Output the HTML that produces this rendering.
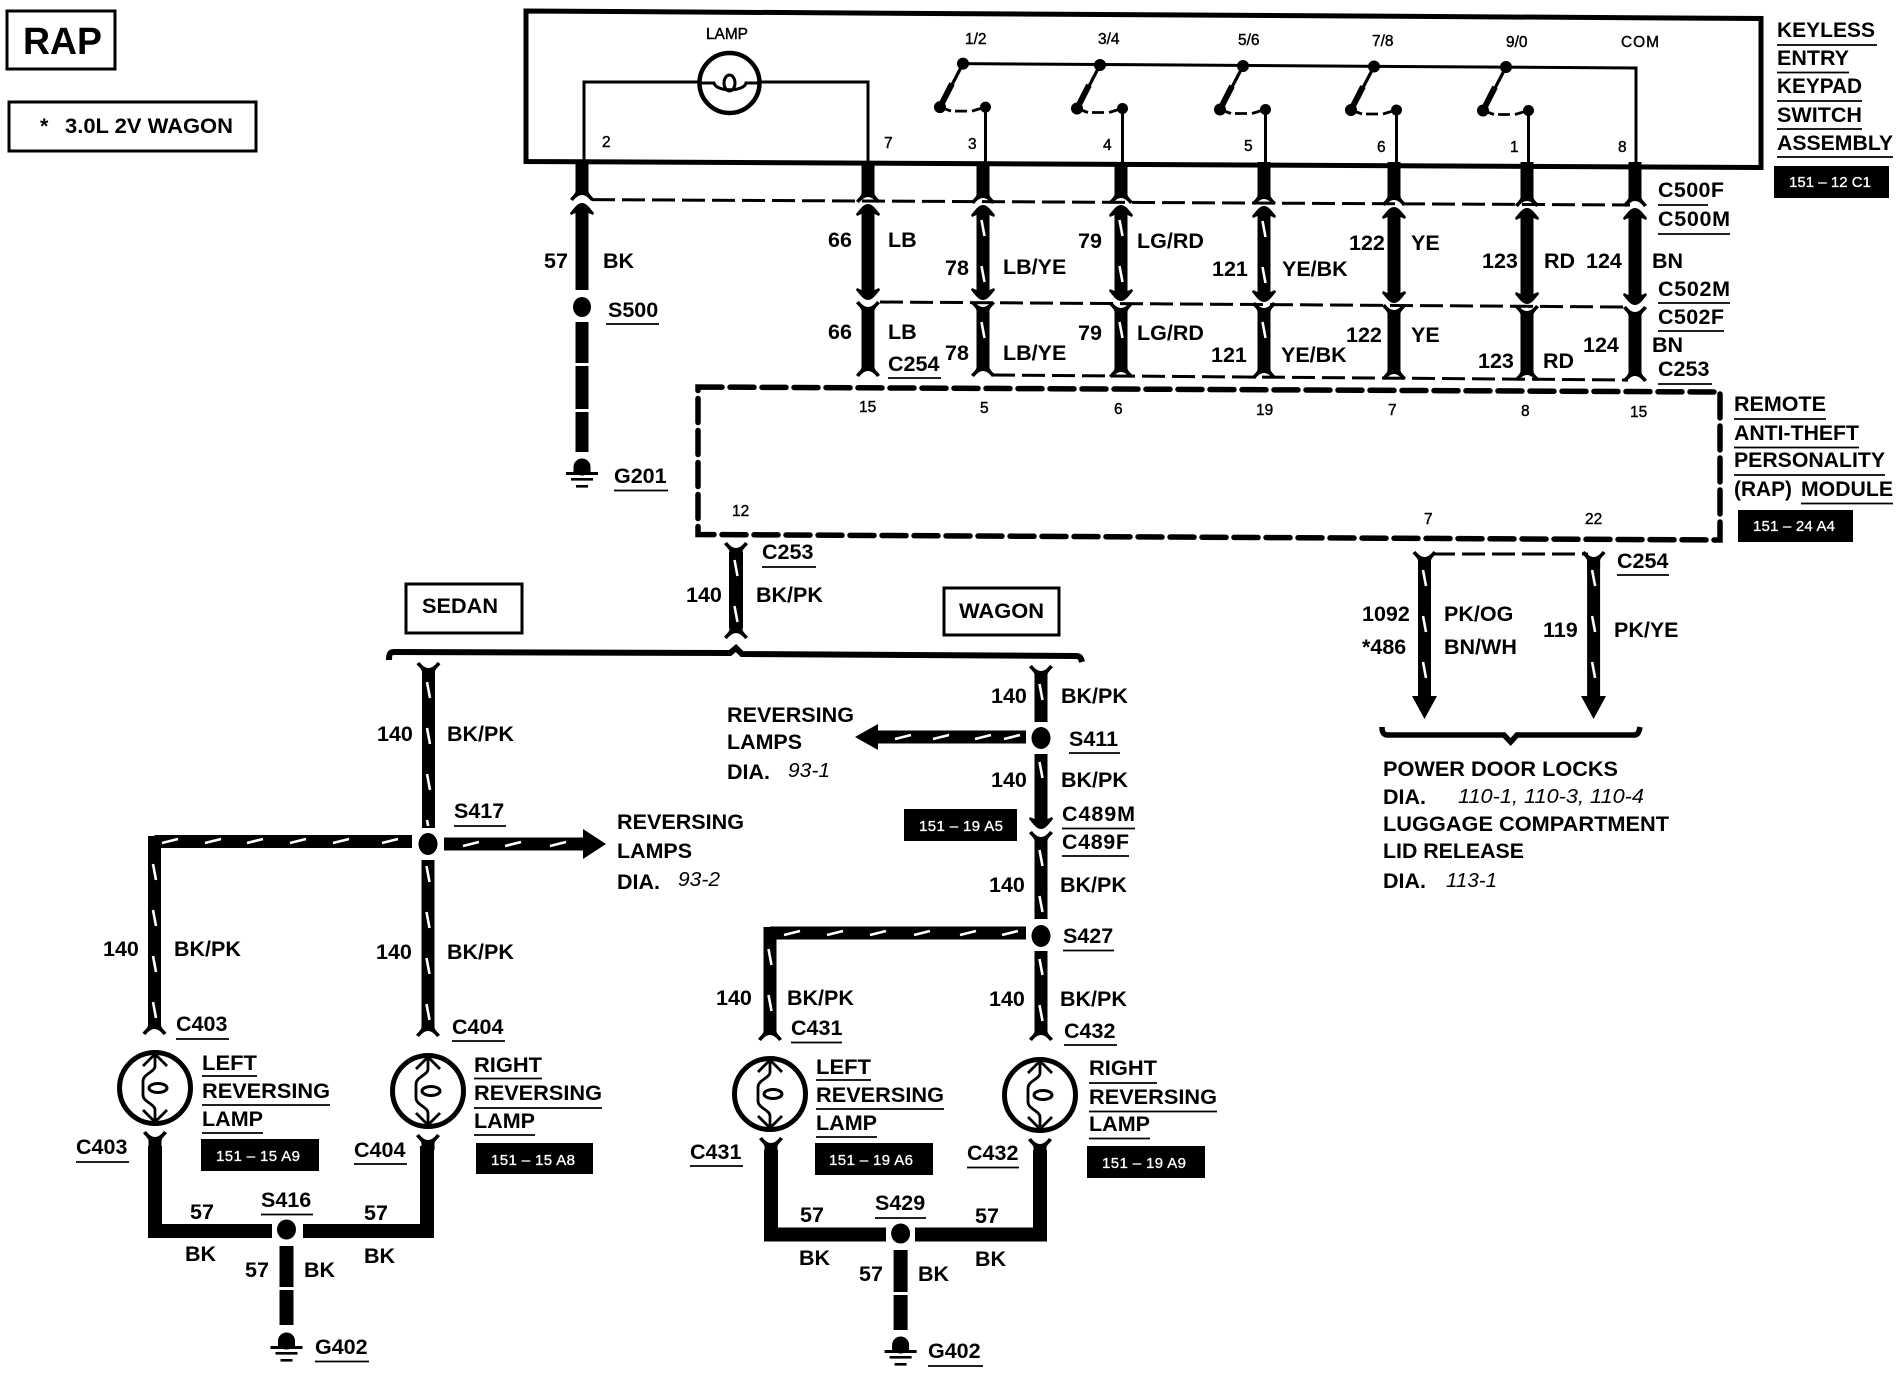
<!DOCTYPE html>
<html>
<head>
<meta charset="utf-8">
<style>
html,body{margin:0;padding:0;background:#fff}
svg{display:block}
text{font-family:"Liberation Sans",sans-serif;font-weight:bold;font-size:21.5px;fill:#000}
.n{font-size:15.5px;font-weight:normal;stroke:#000;stroke-width:.4px}
.w{font-size:15px;font-weight:normal;fill:#fff;stroke:#fff;stroke-width:.3px}
.i{font-style:italic;font-weight:normal;font-size:20px}
.ul{fill:none;stroke:#000;stroke-width:1.8}
.wire{fill:none;stroke:#000;stroke-width:13}
.sh{fill:none;stroke:#fff;stroke-width:2.6}
.thin{fill:none;stroke:#000;stroke-width:3}
.dash{fill:none;stroke:#000;stroke-width:3;stroke-dasharray:23 7}
.mod{fill:none;stroke:#000;stroke-width:5.5;stroke-dasharray:24 8;stroke-linecap:round}
</style>
</head>
<body>
<svg xmlns="http://www.w3.org/2000/svg" width="1900" height="1376" viewBox="0 0 1900 1376">
<defs>
<pattern id="vs" patternUnits="userSpaceOnUse" x="-5" y="0" width="10" height="46"><path d="M-1.5 4L1.5 20" transform="translate(5,0)" stroke="#fff" stroke-width="2.6" fill="none"/></pattern>
<path id="fd" d="M-6.5 -14H6.5V-8C6.5 -5 10 -3 12 0L9 2C6 -2 3 -4 0 -4 -3 -4 -6 -2 -9 2L-12 0C-10 -3 -6.5 -5 -6.5 -8Z"/>
<path id="fu" d="M-6.5 14H6.5V8C6.5 5 10 3 12 0L9 -2C6 2 3 4 0 4 -3 4 -6 2 -9 -2L-12 0C-10 3 -6.5 5 -6.5 8Z"/>
<path id="au" d="M0 0C3 0 5 2 7 4L12 10 11 12 6.5 10V18H-6.5V10L-11 12 -12 10 -7 4C-5 2 -3 0 0 0Z"/>
<path id="ad" d="M0 0C3 0 5 -2 7 -4L12 -10 11 -12 6.5 -10V-18H-6.5V-10L-11 -12 -12 -10 -7 -4C-5 -2 -3 0 0 0Z"/>
<g id="gnd"><ellipse cx="0" cy="9" rx="8.5" ry="8.5"/><rect x="-8.5" y="9" width="17" height="6"/><rect x="-16" y="14" width="32" height="3"/><rect x="-11" y="20" width="22" height="2.6"/><rect x="-6" y="27" width="12" height="2.6"/></g>
<g id="lamp"><circle r="35.5" fill="#fff" stroke="#000" stroke-width="5"/>
<path d="M0 -34V-22C0 -16 -12 -14 -12 -7V7C-12 14 0 16 0 22V34" fill="none" stroke="#000" stroke-width="2.8"/>
<ellipse cx="3" cy="0" rx="9" ry="4.5" fill="none" stroke="#000" stroke-width="3"/>
<path d="M-12 -22L0 -34 12 -22M-12 22L0 34 12 22" fill="none" stroke="#000" stroke-width="2.8"/></g>
<g id="sw"><circle r="6"/><path d="M0 0L-12 23" fill="none" stroke="#000" stroke-width="3.2"/><path d="M-11 20L-23 43.5" fill="none" stroke="#000" stroke-width="6"/><circle cx="-23" cy="43.5" r="6"/><circle cx="22.5" cy="43.5" r="5.5"/><path d="M-23 43.5L-12 47.5M-8 47.5H4M9 47.5L22 43.5" fill="none" stroke="#000" stroke-width="2.8"/></g>
</defs>

<!-- top-left boxes -->
<rect x="7" y="11" width="108" height="58" fill="none" stroke="#000" stroke-width="3"/>
<text x="23" y="54" style="font-size:38px" textLength="79" lengthAdjust="spacingAndGlyphs">RAP</text>
<rect x="9" y="102" width="247" height="49" fill="none" stroke="#000" stroke-width="3"/>
<text x="40" y="133">*</text>
<text x="65" y="133" textLength="168" lengthAdjust="spacingAndGlyphs">3.0L 2V WAGON</text>

<!-- keypad box -->
<path d="M526 11L1761 18.5V167.5L526 161.5Z" fill="none" stroke="#000" stroke-width="5"/>
<path class="thin" d="M584 161V82H700M760 82H868V163"/>
<circle cx="729.5" cy="83" r="30" fill="#fff" stroke="#000" stroke-width="4.5"/>
<path class="thin" d="M700 83H714C716 92 744 92 746 83H760"/>
<ellipse cx="729.5" cy="83" rx="5.5" ry="8" fill="none" stroke="#000" stroke-width="3"/>
<text class="n" x="706" y="39" textLength="42">LAMP</text>
<text class="n" x="602" y="147">2</text><text class="n" x="884" y="148">7</text>

<path class="thin" d="M962 63.6L1636 68V165M985.5 107.5V164M1122.5 108V164M1265.5 109V165M1396.5 110V165M1528.5 110.5V165"/>
<use href="#sw" x="963" y="63.6"/><use href="#sw" x="1100" y="65"/><use href="#sw" x="1243" y="66"/><use href="#sw" x="1374" y="66.5"/><use href="#sw" x="1506" y="67"/>
<text class="n" x="965" y="44">1/2</text><text class="n" x="1098" y="44">3/4</text><text class="n" x="1238" y="45">5/6</text><text class="n" x="1372" y="46">7/8</text><text class="n" x="1506" y="47">9/0</text><text class="n" x="1621" y="47" textLength="38">COM</text>
<text class="n" x="968" y="149">3</text><text class="n" x="1103" y="150">4</text><text class="n" x="1244" y="151">5</text><text class="n" x="1377" y="152">6</text><text class="n" x="1510" y="152">1</text><text class="n" x="1618" y="152">8</text>

<!-- connector dashes -->
<path class="dash" d="M592 199.6L1630 205M880 302L1628 307M992 375L1628 380M1432 554H1588"/>

<!-- 57 wire -->
<path class="wire" d="M582 162V190M582 215V290M582 322V363M582 366V409M582 412V452"/>
<use href="#fd" x="582" y="199"/><use href="#au" x="582" y="203"/>
<ellipse cx="582" cy="307" rx="9" ry="10"/>
<use href="#gnd" x="582" y="458"/>

<!-- columns -->
<path class="wire" d="M868 162V192M868 218V285M868 312V366
M983 162V192M983 218V285M983 312V366
M1121 162V192M1121 218V285M1121 312V366
M1264 162V193M1264 219V286M1264 313V367
M1394 162V194M1394 220V288M1394 314V368
M1527 162V195M1527 221V289M1527 315V370
M1635 162V196M1635 222V290M1635 316V371"/>
<use href="#fd" x="868" y="201"/><use href="#au" x="868" y="204"/><use href="#ad" x="868" y="300"/><use href="#fu" x="868" y="303"/><use href="#fd" x="868" y="375"/>
<use href="#fd" x="983" y="202"/><use href="#au" x="983" y="205"/><use href="#ad" x="983" y="300"/><use href="#fu" x="983" y="303"/><use href="#fd" x="983" y="375"/>
<use href="#fd" x="1121" y="202"/><use href="#au" x="1121" y="205"/><use href="#ad" x="1121" y="301"/><use href="#fu" x="1121" y="304"/><use href="#fd" x="1121" y="376"/>
<use href="#fd" x="1264" y="203"/><use href="#au" x="1264" y="206"/><use href="#ad" x="1264" y="302"/><use href="#fu" x="1264" y="304"/><use href="#fd" x="1264" y="377"/>
<use href="#fd" x="1394" y="204"/><use href="#au" x="1394" y="207"/><use href="#ad" x="1394" y="303"/><use href="#fu" x="1394" y="306"/><use href="#fd" x="1394" y="378"/>
<use href="#fd" x="1527" y="205"/><use href="#au" x="1527" y="208"/><use href="#ad" x="1527" y="304"/><use href="#fu" x="1527" y="307"/><use href="#fd" x="1527" y="379"/>
<use href="#fd" x="1635" y="205"/><use href="#au" x="1635" y="208"/><use href="#ad" x="1635" y="305"/><use href="#fu" x="1635" y="308"/><use href="#fd" x="1635" y="380"/>
<rect transform="translate(983,216)" x="-5" width="10" height="68" fill="url(#vs)"/><rect transform="translate(983,318)" x="-5" width="10" height="46" fill="url(#vs)"/>
<rect transform="translate(1121,216)" x="-5" width="10" height="68" fill="url(#vs)"/><rect transform="translate(1121,318)" x="-5" width="10" height="46" fill="url(#vs)"/>
<rect transform="translate(1264,217)" x="-5" width="10" height="68" fill="url(#vs)"/><rect transform="translate(1264,318)" x="-5" width="10" height="46" fill="url(#vs)"/>

<!-- module -->
<path class="mod" d="M698 387L1720 392V540L698 534.5Z"/>
<text class="n" x="859" y="412">15</text><text class="n" x="980" y="413">5</text><text class="n" x="1114" y="414">6</text><text class="n" x="1256" y="415">19</text><text class="n" x="1388" y="415">7</text><text class="n" x="1521" y="416">8</text><text class="n" x="1630" y="417">15</text>
<text class="n" x="732" y="516">12</text><text class="n" x="1424" y="524">7</text><text class="n" x="1585" y="524">22</text>

<!-- upper labels -->
<text x="544" y="268">57</text><text x="603" y="268">BK</text>
<text x="608" y="317">S500</text><text x="614" y="483">G201</text>
<text x="828" y="247">66</text><text x="888" y="247">LB</text>
<text x="828" y="339">66</text><text x="888" y="339">LB</text>
<text x="888" y="371">C254</text>
<text x="945" y="275">78</text><text x="1003" y="274">LB/YE</text>
<text x="945" y="360">78</text><text x="1003" y="360">LB/YE</text>
<text x="1078" y="248">79</text><text x="1137" y="248">LG/RD</text>
<text x="1078" y="340">79</text><text x="1137" y="340">LG/RD</text>
<text x="1212" y="276">121</text><text x="1282" y="276">YE/BK</text>
<text x="1211" y="362">121</text><text x="1281" y="362">YE/BK</text>
<text x="1349" y="250">122</text><text x="1411" y="250">YE</text>
<text x="1346" y="342">122</text><text x="1411" y="342">YE</text>
<text x="1482" y="268">123</text><text x="1544" y="268">RD</text>
<text x="1478" y="368">123</text><text x="1543" y="368">RD</text>
<text x="1586" y="268">124</text><text x="1652" y="268">BN</text>
<text x="1583" y="352">124</text><text x="1652" y="352">BN</text>
<text x="1658" y="197" textLength="66">C500F</text>
<text x="1658" y="226" textLength="72">C500M</text>
<text x="1658" y="296" textLength="72">C502M</text>
<text x="1658" y="324" textLength="66">C502F</text>
<text x="1658" y="376">C253</text>
<text x="1777" y="37" textLength="98" lengthAdjust="spacingAndGlyphs">KEYLESS</text>
<text x="1777" y="65" textLength="72" lengthAdjust="spacingAndGlyphs">ENTRY</text>
<text x="1777" y="93" textLength="85" lengthAdjust="spacingAndGlyphs">KEYPAD</text>
<text x="1777" y="122" textLength="85" lengthAdjust="spacingAndGlyphs">SWITCH</text>
<text x="1777" y="150" textLength="116" lengthAdjust="spacingAndGlyphs">ASSEMBLY</text>
<rect x="1774" y="166" width="115" height="32"/>
<text class="w" x="1789" y="187" textLength="82">151 – 12 C1</text>
<text x="1734" y="411" textLength="92" lengthAdjust="spacingAndGlyphs">REMOTE</text>
<text x="1734" y="440" textLength="125" lengthAdjust="spacingAndGlyphs">ANTI-THEFT</text>
<text x="1734" y="467" textLength="151" lengthAdjust="spacingAndGlyphs">PERSONALITY</text>
<text x="1734" y="496" textLength="58" lengthAdjust="spacingAndGlyphs">(RAP)</text>
<text x="1801" y="496" textLength="92" lengthAdjust="spacingAndGlyphs">MODULE</text>
<rect x="1738" y="510" width="115" height="32"/>
<text class="w" x="1753" y="531" textLength="82">151 – 24 A4</text>

<!-- C253 + braces -->
<path class="wire" style="stroke-width:14" d="M736 552V628"/>
<rect transform="translate(736,556)" x="-5" width="10" height="72" fill="url(#vs)"/>
<use href="#fu" x="736" y="544"/><use href="#fd" x="736" y="637"/>
<text x="762" y="559">C253</text><text x="686" y="602">140</text><text x="756" y="602">BK/PK</text>
<rect x="406" y="584" width="116" height="49" fill="none" stroke="#000" stroke-width="3"/>
<text x="422" y="613" textLength="76" lengthAdjust="spacingAndGlyphs">SEDAN</text>
<rect x="944" y="588" width="115" height="47" fill="none" stroke="#000" stroke-width="3"/>
<text x="959" y="618" textLength="85" lengthAdjust="spacingAndGlyphs">WAGON</text>
<path fill="none" stroke="#000" stroke-width="6" d="M389 660C389 654 390 652 394 652L730 653 736 648 742 654 1076 656C1080 656 1081 658 1082 662"/>

<!-- right outputs -->
<path class="wire" d="M1424.5 562V700M1593.6 562V700"/>
<rect transform="translate(1424.5,566)" x="-5" width="10" height="130" fill="url(#vs)"/><rect transform="translate(1593.6,566)" x="-5" width="10" height="130" fill="url(#vs)"/>
<use href="#fu" x="1424.5" y="553"/><use href="#fu" x="1593.6" y="553"/>
<path d="M1412 696H1437L1424.5 719ZM1581 696H1606L1593.6 719Z"/>
<text x="1617" y="568">C254</text>
<text x="1362" y="621">1092</text><text x="1362" y="654">*486</text>
<text x="1444" y="621">PK/OG</text><text x="1444" y="654">BN/WH</text>
<text x="1543" y="637">119</text><text x="1614" y="637">PK/YE</text>
<path fill="none" stroke="#000" stroke-width="5.5" d="M1382 727C1382 733 1384 735 1388 735L1504 735 1510.6 742 1517 735 1634 735C1638 735 1639 732 1640 727"/>
<text x="1383" y="776" textLength="235" lengthAdjust="spacingAndGlyphs">POWER DOOR LOCKS</text>
<text x="1383" y="804">DIA.</text><text class="i" x="1458" y="803" textLength="186" lengthAdjust="spacingAndGlyphs">110-1, 110-3, 110-4</text>
<text x="1383" y="831" textLength="286" lengthAdjust="spacingAndGlyphs">LUGGAGE COMPARTMENT</text>
<text x="1383" y="858" textLength="141" lengthAdjust="spacingAndGlyphs">LID RELEASE</text>
<text x="1383" y="888">DIA.</text><text class="i" x="1446" y="887" textLength="51" lengthAdjust="spacingAndGlyphs">113-1</text>

<!-- SEDAN -->
<path class="wire" d="M428.5 672V828M428 860V1026M154.5 841.5H412M444 844H590M154.5 836V1024"/>
<path d="M583 829L606 844 583 859Z"/>
<use href="#fu" x="428.5" y="664"/><use href="#fd" x="428" y="1035"/><use href="#fd" x="154.5" y="1033"/>
<ellipse cx="428" cy="844" rx="9.5" ry="11"/>
<rect transform="translate(428.5,678)" x="-5" width="10" height="148" fill="url(#vs)"/><rect transform="translate(428,862)" x="-5" width="10" height="160" fill="url(#vs)"/><rect transform="translate(154.5,860)" x="-5" width="10" height="162" fill="url(#vs)"/>
<path class="sh" d="M162 843L178 839M205 843L221 839M247 843L263 839M290 843L306 839M333 843L349 839M382 843L398 839M463 846L479 842M505 846L521 842M550 846L566 842"/>
<text x="377" y="741">140</text><text x="447" y="741">BK/PK</text>
<text x="454" y="818">S417</text>
<text x="617" y="829" textLength="127" lengthAdjust="spacingAndGlyphs">REVERSING</text>
<text x="617" y="858" textLength="75" lengthAdjust="spacingAndGlyphs">LAMPS</text>
<text x="617" y="889">DIA.</text><text class="i" x="678" y="886" textLength="42" lengthAdjust="spacingAndGlyphs">93-2</text>
<text x="103" y="956">140</text><text x="174" y="956">BK/PK</text>
<text x="376" y="959">140</text><text x="447" y="959">BK/PK</text>
<text x="176" y="1031">C403</text><text x="452" y="1034">C404</text>
<use href="#lamp" x="155" y="1088"/><use href="#lamp" x="428" y="1091"/>
<text x="202" y="1070" textLength="55" lengthAdjust="spacingAndGlyphs">LEFT</text>
<text x="202" y="1098" textLength="128" lengthAdjust="spacingAndGlyphs">REVERSING</text>
<text x="202" y="1126" textLength="61" lengthAdjust="spacingAndGlyphs">LAMP</text>
<text x="474" y="1072" textLength="68" lengthAdjust="spacingAndGlyphs">RIGHT</text>
<text x="474" y="1100" textLength="128" lengthAdjust="spacingAndGlyphs">REVERSING</text>
<text x="474" y="1128" textLength="61" lengthAdjust="spacingAndGlyphs">LAMP</text>
<rect x="201" y="1139" width="118" height="32"/><text class="w" x="216" y="1161" textLength="84">151 – 15 A9</text>
<rect x="476" y="1143" width="117" height="31"/><text class="w" x="491" y="1165" textLength="84">151 – 15 A8</text>
<use href="#fu" x="155" y="1133"/><use href="#fu" x="428" y="1136"/>
<path class="wire" style="stroke-width:14" d="M155 1146V1231H272M303 1231H427V1146M286.5 1246V1287M286.5 1290V1325"/>
<ellipse cx="286.5" cy="1229.5" rx="9.5" ry="10"/>
<use href="#gnd" x="286.5" y="1332"/>
<text x="76" y="1154">C403</text><text x="354" y="1157">C404</text>
<text x="190" y="1219">57</text><text x="261" y="1207">S416</text><text x="364" y="1220">57</text>
<text x="185" y="1261">BK</text><text x="364" y="1263">BK</text>
<text x="245" y="1277">57</text><text x="304" y="1277">BK</text>
<text x="315" y="1354">G402</text>

<!-- WAGON -->
<path class="wire" d="M1041 675V722M1041 754V812M1041 842V919M1041 951V1030M1026 737H877M1026 933H770M770 927V1030"/>
<path d="M878 724L855 737 878 750Z"/>
<use href="#fu" x="1041" y="667"/><use href="#ad" x="1041" y="829"/><use href="#fu" x="1041" y="833"/><use href="#fd" x="1041" y="1039"/><use href="#fd" x="770" y="1039"/>
<ellipse cx="1041" cy="738" rx="9.5" ry="11"/><ellipse cx="1041" cy="936" rx="9.5" ry="11"/>
<rect transform="translate(1041,680)" x="-5" width="10" height="40" fill="url(#vs)"/><rect transform="translate(1041,758)" x="-5" width="10" height="46" fill="url(#vs)"/><rect transform="translate(1041,846)" x="-5" width="10" height="72" fill="url(#vs)"/><rect transform="translate(1041,955)" x="-5" width="10" height="72" fill="url(#vs)"/><rect transform="translate(770,945)" x="-5" width="10" height="82" fill="url(#vs)"/>
<path class="sh" d="M895 739L911 735M933 739L949 735M975 739L991 735M1004 739L1020 735M784 935L800 931M827 935L843 931M870 935L886 931M914 935L930 931M960 935L976 931M1002 935L1018 931"/>
<text x="991" y="703">140</text><text x="1061" y="703">BK/PK</text>
<text x="1069" y="746">S411</text>
<text x="727" y="722" textLength="127" lengthAdjust="spacingAndGlyphs">REVERSING</text>
<text x="727" y="749" textLength="75" lengthAdjust="spacingAndGlyphs">LAMPS</text>
<text x="727" y="779">DIA.</text><text class="i" x="788" y="777" textLength="42" lengthAdjust="spacingAndGlyphs">93-1</text>
<rect x="904" y="809" width="113" height="32"/><text class="w" x="919" y="831" textLength="84">151 – 19 A5</text>
<text x="991" y="787">140</text><text x="1061" y="787">BK/PK</text>
<text x="1062" y="821" textLength="73">C489M</text><text x="1062" y="849" textLength="67">C489F</text>
<text x="989" y="892">140</text><text x="1060" y="892">BK/PK</text>
<text x="1063" y="943">S427</text>
<text x="716" y="1005">140</text><text x="787" y="1005">BK/PK</text>
<text x="989" y="1006">140</text><text x="1060" y="1006">BK/PK</text>
<text x="791" y="1035">C431</text><text x="1064" y="1038">C432</text>
<use href="#lamp" x="770" y="1094"/><use href="#lamp" x="1040" y="1095"/>
<text x="816" y="1074" textLength="55" lengthAdjust="spacingAndGlyphs">LEFT</text>
<text x="816" y="1102" textLength="128" lengthAdjust="spacingAndGlyphs">REVERSING</text>
<text x="816" y="1130" textLength="61" lengthAdjust="spacingAndGlyphs">LAMP</text>
<text x="1089" y="1075" textLength="68" lengthAdjust="spacingAndGlyphs">RIGHT</text>
<text x="1089" y="1104" textLength="128" lengthAdjust="spacingAndGlyphs">REVERSING</text>
<text x="1089" y="1131" textLength="61" lengthAdjust="spacingAndGlyphs">LAMP</text>
<rect x="815" y="1143" width="118" height="32"/><text class="w" x="829" y="1165" textLength="84">151 – 19 A6</text>
<rect x="1087" y="1146" width="118" height="32"/><text class="w" x="1102" y="1168" textLength="84">151 – 19 A9</text>
<use href="#fu" x="771" y="1139"/><use href="#fu" x="1040" y="1140"/>
<path class="wire" style="stroke-width:14" d="M771 1150V1234.5H886M915 1234.5H1040V1150M900.6 1250V1292M900.6 1295V1330"/>
<ellipse cx="900.6" cy="1233.5" rx="9.5" ry="10"/>
<use href="#gnd" x="900.6" y="1336"/>
<text x="690" y="1159">C431</text><text x="967" y="1160">C432</text>
<text x="800" y="1222">57</text><text x="875" y="1210">S429</text><text x="975" y="1223">57</text>
<text x="799" y="1265">BK</text><text x="975" y="1266">BK</text>
<text x="859" y="1281">57</text><text x="918" y="1281">BK</text>
<text x="928" y="1358">G402</text>

<!-- underlines -->
<path class="ul" d="M606 324H659M614 490.5H668M888 378H941M816 567H762
M1658 205H1708M1658 234H1730M1658 303H1730M1658 331H1724M1658 384H1712
M1777 45H1877M1777 72.5H1849M1777 101H1862M1777 129H1862M1777 157H1893
M1734 419H1826M1734 447.5H1859M1734 475H1885M1801 503.5H1893
M1617 575H1669
M454 826H506M176 1039H229M452 1041H505
M202 1076H257M202 1105H330M202 1133H263
M474 1078.5H542M474 1108H602M474 1135H535
M76 1162H129M354 1164H407M261 1214.5H313M315 1361.5H369
M1069 753H1120M1062 828.5H1135M1062 856H1129M1063 950.5H1114
M791 1042.5H842M1064 1045H1117
M816 1080H871M816 1109H944M816 1137H877
M1089 1083H1157M1089 1111.5H1217M1089 1138.5H1150
M690 1166H743M967 1167.5H1019M875 1218H926M928 1366H983"/>
</svg>
</body>
</html>
